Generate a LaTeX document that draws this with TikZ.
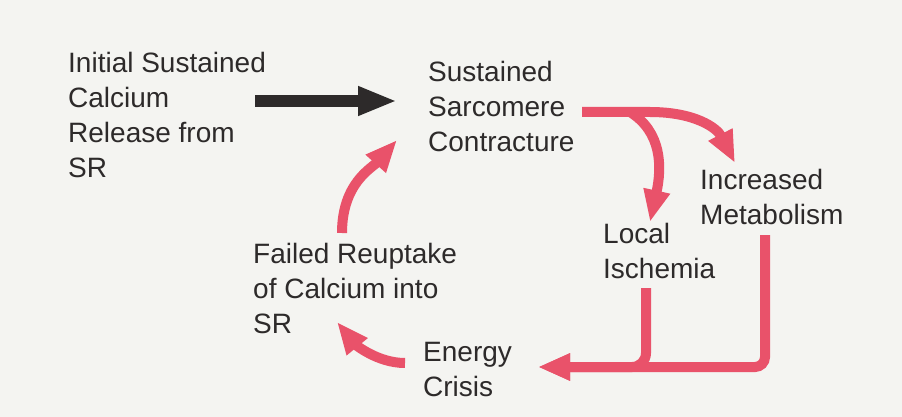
\documentclass[tikz,border=0pt]{standalone}
\usepackage{fontspec}
\setmainfont{Liberation Sans}
\usetikzlibrary{arrows.meta, calc}
\definecolor{cyclered}{RGB}{233,82,106}
\definecolor{inkgray}{RGB}{45,42,42}
\definecolor{paper}{RGB}{244,244,241}

\begin{document}
\begin{tikzpicture}[x=1pt, y=-1pt,
  every node/.style={font=\fontsize{28}{35}\selectfont, text=inkgray, align=left, anchor=north west, inner sep=0pt},
  redarrow/.style={-{Triangle[length=32pt, width=25pt]}, line width=10pt, cyclered},
  blackarrow/.style={-{Triangle[length=39pt, width=27pt]}, line width=12pt, inkgray}]
% Background
\fill[paper] (0,0) rectangle (902,417);
\useasboundingbox (0,0) rectangle (902,417);

% Stages of the cycle
\node (release) at (68,52) {Initial Sustained\\Calcium\\Release from\\SR};
\node (contract) at (428,61) {Sustained\\Sarcomere\\Contracture};
\node (metab) at (700,169) {Increased\\Metabolism};
\node (ischemia) at (603,223) {Local\\Ischemia};
\node (reuptake) at (253,243) {Failed Reuptake\\of Calcium into\\SR};
\node (crisis) at (423,342) {Energy\\Crisis};

% Trigger
\draw[blackarrow] ($(release.north west)+(187,49)$) -- ($(contract.north west)+(-31,40)$);

% Cycle
\draw[redarrow] ($(contract.north west)+(154,51)$) -- ++(68,0)
  .. controls +(45,0) and +(-18,-35) .. ($(metab.north west)+(35,-6)$);
\draw[redarrow] ($(contract.north west)+(202,51)$)
  .. controls +(32,20) and +(12,-55) .. ($(ischemia.north west)+(47,-1)$);
\draw[redarrow, rounded corners=14pt] ($(ischemia.north west)+(43,65)$) |- ($(crisis.north west)+(115,25)$);
\draw[redarrow, rounded corners=10pt] ($(metab.north west)+(65,66)$) |- ($(crisis.north west)+(115,25)$);
\draw[redarrow] ($(crisis.north west)+(-18,21)$)
  .. controls +(-28,0) and +(18,22) .. ($(reuptake.north west)+(84,79)$);
\draw[redarrow] ($(reuptake.north west)+(89,-10)$)
  .. controls +(0,-50) and +(-25,28) .. ($(contract.north west)+(-31,79)$);
\end{tikzpicture}
\end{document}
